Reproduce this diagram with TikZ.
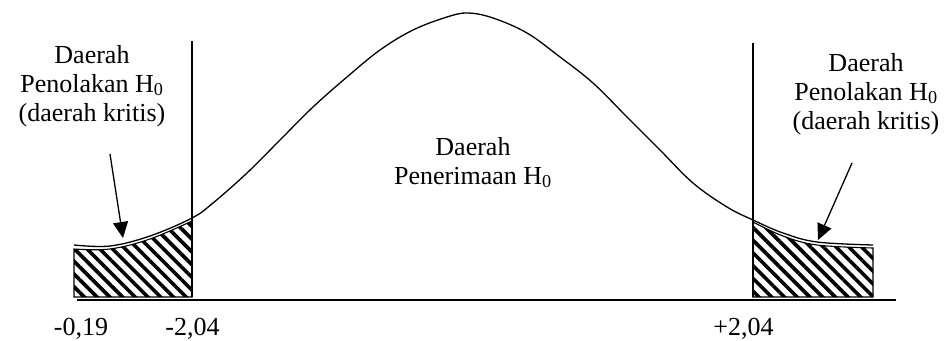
\documentclass[tikz,border=0pt]{standalone}
\usepackage{fontspec}
\setmainfont{Liberation Serif}
\usetikzlibrary{arrows.meta,patterns.meta}

\begin{document}
\begin{tikzpicture}[x=1pt,y=-1pt,
  lbl/.style={font=\fontsize{26}{29}\selectfont,align=center,inner sep=0pt,anchor=north},
  num/.style={font=\fontsize{26}{29}\selectfont,inner sep=0pt,anchor=base},
  bell/.style={line width=1.3pt,line join=round},
  bar/.style={line width=1.2pt},
  hatch/.style={line width=1.1pt,pattern={Lines[angle=-45,distance=9pt,line width=3.6pt]}},
  pointer/.style={-{Triangle[length=16pt,width=15pt]},line width=1.3pt}]
  \useasboundingbox (0,0) rectangle (950,340);
  % shaded tails (critical regions)
  \draw[hatch] (74,297) -- (74,249)
    -- plot[smooth,tension=0.6] coordinates {(74,249) (110,249) (150,239) (192,221)}
    -- (192,297) -- cycle;
  \draw[hatch] (753,297) -- (753,222)
    -- plot[smooth,tension=0.6] coordinates {(753,222) (783,236) (817,245) (873,248)}
    -- (873,297) -- cycle;
  % bell curve
  \draw[bell] plot[smooth,tension=0.6] coordinates {
    (74,245) (110,246) (150,236) (192,218) (213,203) (247,173) (280,140)
    (313,107) (347,77) (380,50) (413,30) (447,17) (468,13) (493,18)
    (527,33) (560,57) (593,83) (627,117) (660,150) (693,183) (727,207)
    (753,220) (783,233) (817,242) (873,245)};
  % axis and critical values
  \draw[bar] (77,300) -- (896,300);
  \draw[bar] (192,41) -- (192,297);
  \draw[bar] (753,43) -- (753,297);
  % labels
  \node[lbl] (lefttxt) at (92,45) {Daerah\\Penolakan H\textsubscript{0}\\(daerah kritis)};
  \node[lbl] (righttxt) at (866,53) {Daerah\\Penolakan H\textsubscript{0}\\(daerah kritis)};
  \node[lbl] (midtxt) at (473,137) {Daerah\\Penerimaan H\textsubscript{0}};
  \node[num] (lowend) at (81,335) {-0,19};
  \node[num] (leftcrit) at (192.5,335) {-2,04};
  \node[num] (rightcrit) at (743.5,335) {+2,04};
  % arrows into the tails
  \coordinate (lfrom) at (110,154);
  \coordinate (lto) at (123,238);
  \coordinate (rfrom) at (852,163);
  \coordinate (rto) at (818,240);
  \draw[pointer] (lfrom) -- (lto);
  \draw[pointer] (rfrom) -- (rto);
\end{tikzpicture}
\end{document}
